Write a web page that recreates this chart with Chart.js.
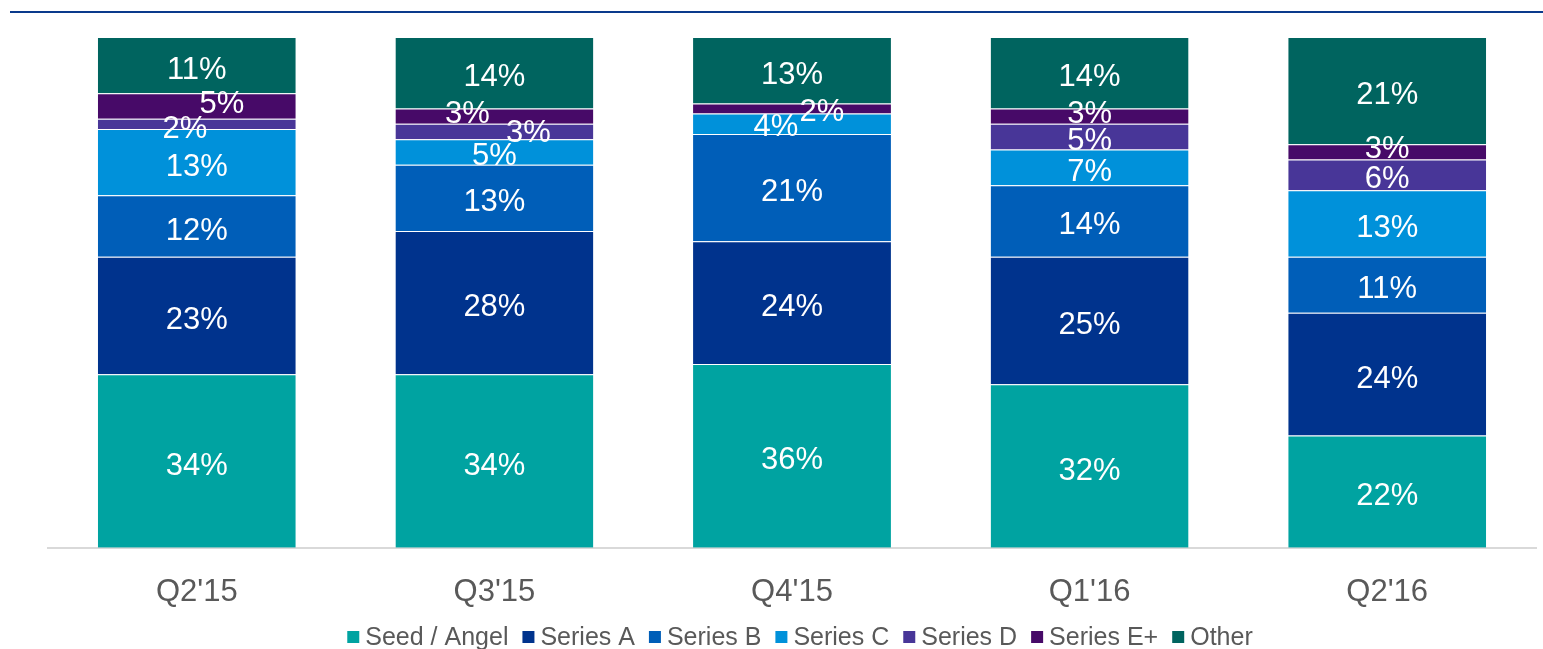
<!DOCTYPE html>
<html>
<head>
<meta charset="utf-8">
<script src="https://cdn.jsdelivr.net/npm/chart.js@4"></script>
<style>
  html, body { margin: 0; padding: 0; background: #fff; }
  #wrap { width: 1543px; height: 649px; position: relative; }
</style>
</head>
<body>
<div id="wrap"><canvas id="dealShare"></canvas></div>
<script>
// quarters
const quarters = ["Q2'15", "Q3'15", "Q4'15", "Q1'16", "Q2'16"];

// share of deals by stage (%)
const seedAngel = [34, 34, 36, 32, 22];
const seriesA   = [23, 28, 24, 25, 24];
const seriesB   = [12, 13, 21, 14, 11];
const seriesC   = [13, 5, 4, 7, 13];
const seriesD   = [2, 3, 0, 5, 6];
const seriesE   = [5, 3, 2, 3, 3];
const other     = [11, 14, 13, 14, 21];

const stageNames  = ['Seed / Angel', 'Series A', 'Series B', 'Series C', 'Series D', 'Series E+', 'Other'];
const stageColors = ['#00A3A1', '#00338D', '#005EB8', '#0091DA', '#483698', '#470A68', '#00645F'];
const stageValues = [seedAngel, seriesA, seriesB, seriesC, seriesD, seriesE, other];

const FONT = '"Liberation Sans", Arial, sans-serif';

// nudges for crowded labels: "dataset,index" -> [dx, dy]
const nudge = {
  '4,0': [-12, 1], '5,0': [25, -7],
  '4,1': [34, -3], '5,1': [-27, -7],
  '3,2': [-16, -1], '5,2': [30, -1],
  '5,3': [0, -7], '5,4': [0, -7]
};

const segLabels = {
  id: 'segLabels',
  afterDatasetsDraw(chart) {
    const ctx = chart.ctx;
    ctx.save();
    ctx.fillStyle = '#fff';
    ctx.font = '31px ' + FONT;
    ctx.textAlign = 'center';
    ctx.textBaseline = 'middle';
    chart.data.datasets.forEach((ds, i) => {
      chart.getDatasetMeta(i).data.forEach((bar, j) => {
        const v = ds.data[j];
        if (!v) return;
        const off = nudge[i + ',' + j] || [0, 0];
        const y = (bar.y + bar.base) / 2 + 5;
        ctx.fillText(v + '%', bar.x + off[0], y + off[1]);
      });
    });
    ctx.restore();
  }
};

// top rule
const topRule = {
  id: 'topRule',
  beforeDraw(chart) {
    const ctx = chart.ctx;
    ctx.save();
    ctx.fillStyle = '#0A3A8C';
    ctx.fillRect(10, 11, chart.width - 10, 2);
    ctx.restore();
  }
};

// bottom legend, drawn by hand to get the spacing right
const bottomLegend = {
  id: 'bottomLegend',
  afterDraw(chart) {
    const ctx = chart.ctx;
    ctx.save();
    ctx.font = '25px ' + FONT;
    ctx.textBaseline = 'middle';
    const box = 12, gap = 6, sep = 14;
    const items = chart.data.datasets.map(ds => ({
      text: ds.label, color: ds.backgroundColor, w: ctx.measureText(ds.label).width
    }));
    let total = 0;
    items.forEach(it => total += box + gap + it.w + sep);
    total -= sep;
    const a = chart.chartArea;
    let x = (a.left + a.right) / 2 + 8 - total / 2;
    const y = 637;
    items.forEach(it => {
      ctx.fillStyle = it.color;
      ctx.fillRect(x, y - box / 2, box, box);
      ctx.fillStyle = '#595959';
      ctx.fillText(it.text, x + box + gap, y + 1);
      x += box + gap + it.w + sep;
    });
    ctx.restore();
  }
};

new Chart(document.getElementById('dealShare'), {
  type: 'bar',
  data: {
    labels: quarters,
    datasets: stageNames.map((name, i) => ({
      label: name,
      data: stageValues[i],
      backgroundColor: stageColors[i],
      borderColor: 'rgba(255,255,255,0.22)',
      borderWidth: { top: 1, left: 0, right: 0, bottom: 0 },
      borderSkipped: false,
      categoryPercentage: 1,
      barPercentage: 0.665
    }))
  },
  options: {
    responsive: true,
    maintainAspectRatio: false,
    animation: false,
    layout: { padding: { top: 37, left: 48, right: 7, bottom: 20 } },
    plugins: {
      tooltip: { enabled: false },
      legend: { display: false }
    },
    scales: {
      x: {
        stacked: true,
        grid: { display: false },
        border: { display: true, color: '#D9D9D9', width: 2 },
        ticks: {
          color: '#595959',
          padding: 18,
          font: { family: FONT, size: 31 }
        }
      },
      y: {
        stacked: true,
        display: false,
        min: 0,
        max: 100
      }
    }
  },
  plugins: [topRule, segLabels, bottomLegend]
});
</script>
</body>
</html>
